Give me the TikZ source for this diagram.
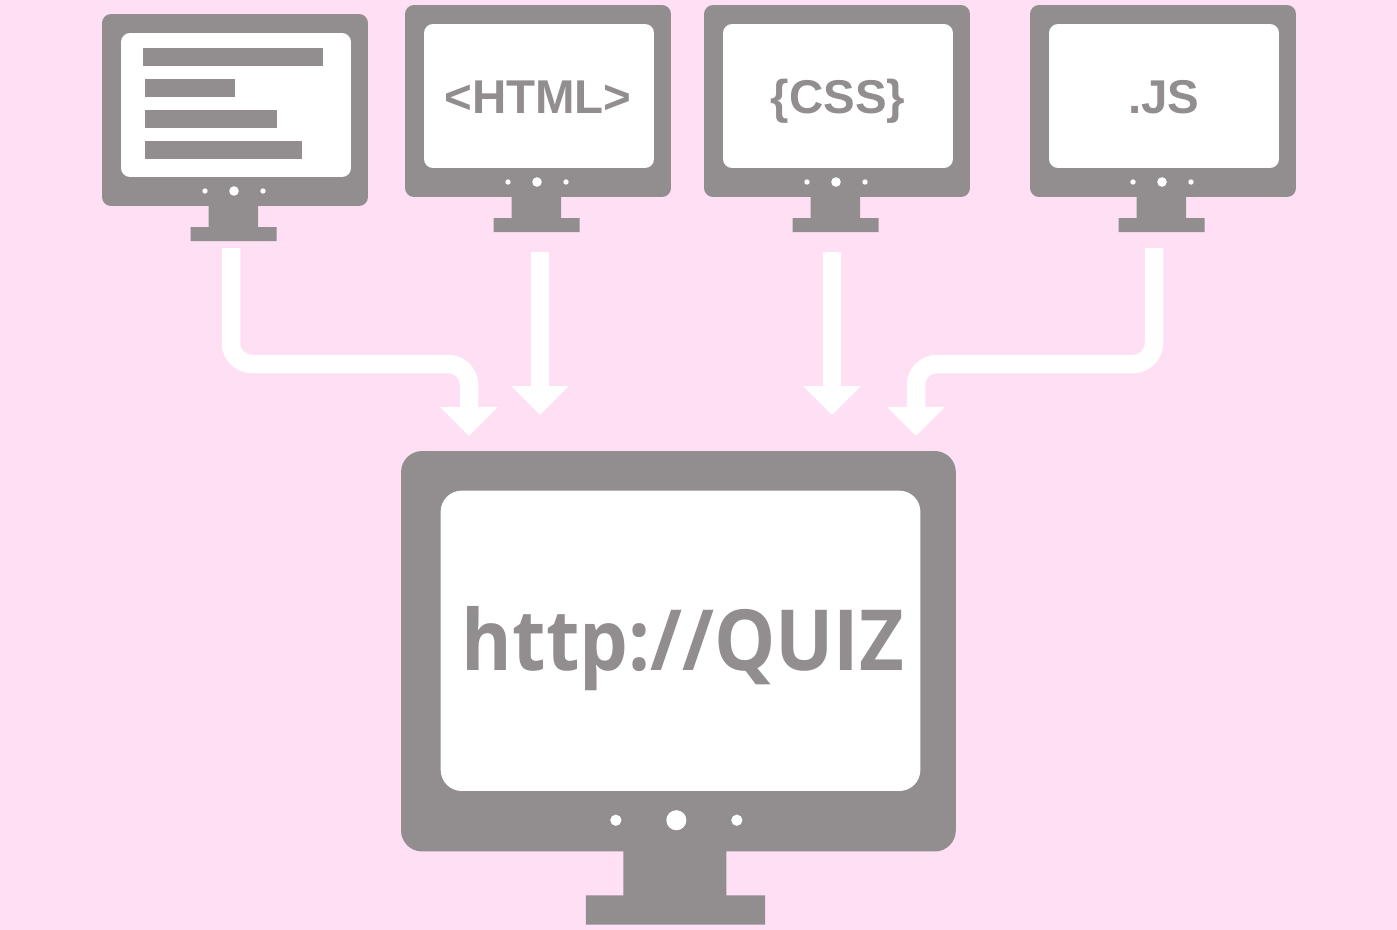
\documentclass[tikz,border=0pt]{standalone}
\usepackage{fontspec}
\setmainfont{Liberation Sans}
\newfontfamily\quizfont[FakeStretch=0.915]{Open Sans}
\usetikzlibrary{arrows.meta,positioning}
\definecolor{monitorgray}{HTML}{928E8F}
\definecolor{pagepink}{HTML}{FEDFF4}
\tikzset{
	monbody/.style={fill=monitorgray,inner sep=0pt,minimum width=5.32cm,minimum height=3.84cm},
	monscreen/.style={fill=white,inner sep=0pt,minimum width=4.6cm,minimum height=2.88cm},
	monbar/.style={fill=monitorgray},
	montext/.style={text=monitorgray,anchor=base,inner sep=0pt,font=\bfseries\fontsize{27}{27}\selectfont},
	flow/.style={draw=white,line width=0.37cm,rounded corners=0.42cm,-{Triangle[width=1.12cm,length=0.58cm]}}
}
\begin{document}
\begin{tikzpicture}[x=0.02cm,y=-0.02cm]
	\useasboundingbox (0,0) rectangle (1397,930);
	\fill[pagepink] (0,0) rectangle (1397,930);
	\foreach\n\x\y\s\r in {1/102/14/1/0.18, 2/405/5/1/0.18, 3/704/5/1/0.18, 4/1030/5/1/0.18, 5/401/451/2.086/0.42}
	{
		\begin{scope}[shift={(\x,\y)},scale=\s,transform shape]
			\fill[monitorgray] (106.6,185) -- (156,185) -- (156,213) -- (174.6,213) -- (174.6,227) -- (88.6,227) -- (88.6,213) -- (106.6,213) -- cycle;
			\node[monbody,rounded corners=\r cm] (mon\n) at (133,96) {};
			\node[monscreen,rounded corners=\r cm] (scr\n) at (134,91) {};
			\fill[white] (132,177) circle(4.8);
			\foreach\d in {103,161}
			{\fill[white] (\d,177) circle(2.7);}
		\end{scope}
	}
	\foreach\i\j\w in {143/48/180, 145/79/90, 145/110/132, 145/141/157}
	{\fill[monbar] (\i,\j) rectangle ++(\w,17.5);}
	\node[montext] (htmltext) at (538,113) {<HTML>};
	\node[montext] (csstext) at (838,113) {\{CSS\}};
	\node[montext] (jstext) at (1164,113) {.JS};
	\node[text=monitorgray,anchor=base,inner sep=0pt,font=\quizfont\bfseries\fontsize{48}{48}\selectfont] (quiztext) at (683,670) {http://QUIZ};
	\coordinate (from1) at (231,248);
	\coordinate (bend1) at (350,364);
	\coordinate (to1) at (469,436);
	\coordinate (from2) at (540,252);
	\coordinate (to2) at (540,415);
	\coordinate (from3) at (832,252);
	\coordinate (to3) at (832,415);
	\coordinate (from4) at (1154,248);
	\coordinate (bend4) at (1040,364);
	\coordinate (to4) at (916,436);
	\draw[flow] (from1) |- (bend1) -| (to1);
	\draw[flow] (from2) -- (to2);
	\draw[flow] (from3) -- (to3);
	\draw[flow] (from4) |- (bend4) -| (to4);
\end{tikzpicture}
\end{document}
